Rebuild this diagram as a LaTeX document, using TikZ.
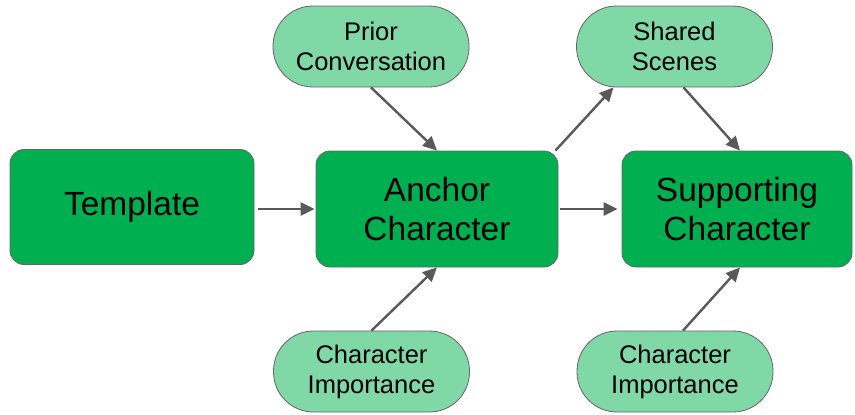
\documentclass[tikz,border=0pt]{standalone}
\usepackage{fontspec}
\setmainfont{Liberation Sans}
\usetikzlibrary{arrows.meta}
\definecolor{boxgreen}{HTML}{00B050}
\definecolor{pillgreen}{HTML}{80D8A6}
\definecolor{edgegray}{HTML}{666666}
\definecolor{arrowgray}{HTML}{595959}
\tikzset{
  mainbox/.style={draw=edgegray, line width=0.8pt, fill=boxgreen, rounded corners=14pt,
    inner sep=0pt, align=center, font=\fontsize{33.5}{38.5}\selectfont},
  pill/.style={draw=edgegray, line width=0.8pt, fill=pillgreen, rounded corners=40pt,
    minimum width=196pt, minimum height=81pt, inner sep=0pt, align=center,
    font=\fontsize{25.5}{30}\selectfont},
  flow/.style={draw=arrowgray, line width=2.4pt,
    -{Triangle[length=14pt, width=13pt]}},
}
\begin{document}
\begin{tikzpicture}[x=1pt, y=-1pt]
\useasboundingbox (0,0) rectangle (855,415);
% main boxes
\node[mainbox, minimum width=244pt, minimum height=115pt] (tpl) at (132,207) {Template};
\node[mainbox, minimum width=242pt, minimum height=116pt] (anc) at (437,209) {Anchor\\Character};
\node[mainbox, minimum width=230pt, minimum height=116pt] (sup) at (737,209) {Supporting\\Character};
% input pills
\node[pill] (prior) at (371,46.5) {Prior\\Conversation};
\node[pill] (shared) at (674.5,46.5) {Shared\\Scenes};
\node[pill] (impA) at (371.5,371.5) {Character\\Importance};
\node[pill] (impS) at (675,371.5) {Character\\Importance};
% connectors
\draw[flow, shorten <=4pt, shorten >=1pt] (tpl.east |- anc.west) -- (anc.west);
\draw[flow, shorten <=2pt, shorten >=4pt] (anc.east) -- (sup.west);
\draw[flow] (prior.south) -- (anc.north);
\draw[flow] (impA.north) -- (anc.south);
\draw[flow] ([xshift=-3pt]anc.north east) -- ([xshift=-61pt]shared.south);
\draw[flow] ([xshift=9pt]shared.south) -- ([xshift=3pt]sup.north);
\draw[flow] ([xshift=8pt]impS.north) -- ([xshift=3pt]sup.south);
\end{tikzpicture}
\end{document}
